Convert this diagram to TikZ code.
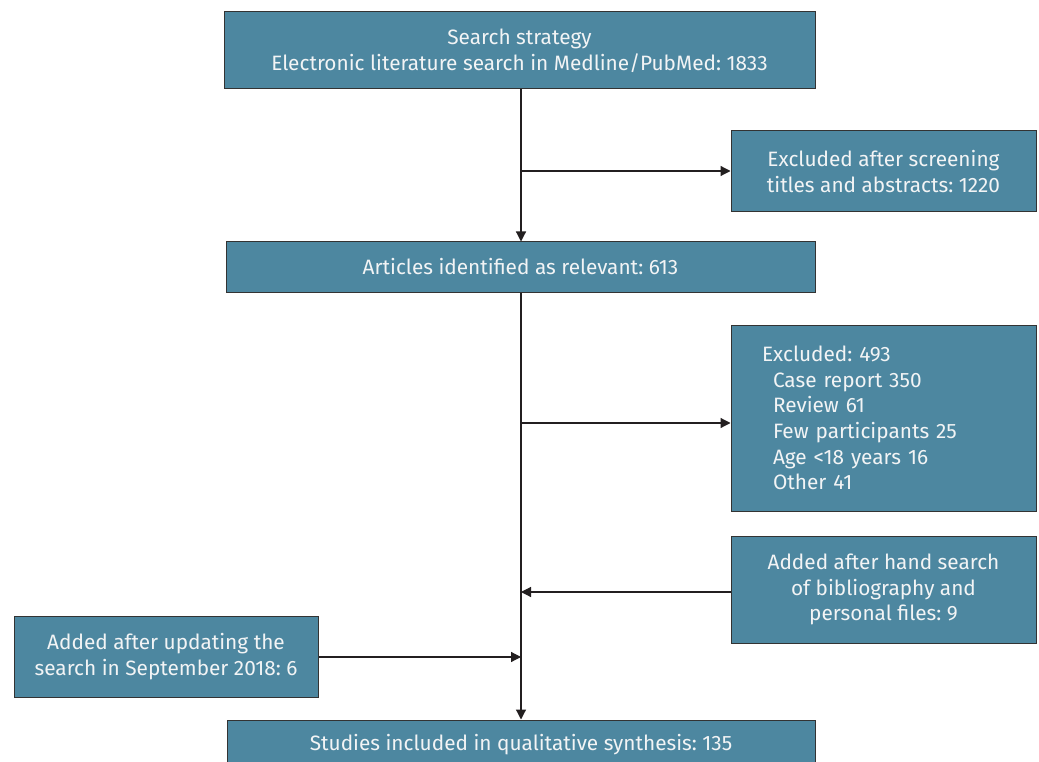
\documentclass[tikz,border=0pt]{standalone}
\usepackage{fontspec}
\setmainfont{Fira Sans}
\usetikzlibrary{arrows.meta}
\definecolor{boxfill}{HTML}{4D87A0}
\definecolor{edgec}{HTML}{333333}
\definecolor{linec}{HTML}{231F20}
\definecolor{txtc}{HTML}{F2F4F5}
\frenchspacing
\begin{document}
\begin{tikzpicture}[x=1pt,y=-1pt,
  box/.style={draw=edgec, line width=1pt, fill=boxfill, text=txtc,
    font=\fontsize{20.8}{25.7}\selectfont, align=center, inner sep=0pt},
  conn/.style={draw=linec, line width=1.2pt},
  arr/.style={conn, -{Triangle[length=10pt,width=10pt]}}]
\useasboundingbox (0,0) rectangle (1039,762);
\clip (0,0) rectangle (1039,762);
\fill[white] (0,0) rectangle (1039,762);

\node[box, minimum width=591pt, minimum height=77pt] (b1) at (519.5,50.5)
  {Search strategy\\Electronic literature search in Medline/PubMed: 1833};
\node[box, minimum width=305pt, minimum height=81pt] (bex1) at (883.5,171.5)
  {Excluded after screening\\titles and abstracts: 1220};
\node[box, minimum width=589pt, minimum height=50pt] (b2) at (520.5,267)
  {Articles identified as relevant: 613};
\node[box, minimum width=305pt, minimum height=186pt, inner xsep=31pt,
  text width=243pt, align=left] (bex2) at (883.5,418)
  {Excluded: 493\\
   \hspace*{11pt}Case report 350\\
   \hspace*{11pt}Review 61\\
   \hspace*{11pt}Few participants 25\\
   \hspace*{11pt}Age <18 years 16\\
   \hspace*{11pt}Other 41};
\node[box, minimum width=305pt, minimum height=107pt] (badd) at (883.5,589.5)
  {Added after hand search\\of bibliography and\\personal files: 9};
\node[box, minimum width=304pt, minimum height=81pt] (bupd) at (166,656.5)
  {Added after updating the\\search in September 2018: 6};
\node[box, minimum width=588pt, minimum height=50pt] (bfin) at (521,745)
  {Studies included in qualitative synthesis: 135};

\coordinate (j1) at (521,171);
\coordinate (j2) at (521,423);
\coordinate (j3) at (521,592);
\coordinate (j4) at (521,657);

\draw[arr] (b1.south -| j1) -- (b2.north -| j1);
\draw[arr] (j1) -- (bex1.west |- j1);
\draw[arr] (b2.south -| j1) -- (bfin.north -| j1);
\draw[arr] (j2) -- (bex2.west |- j2);
\draw[arr] (badd.west |- j3) -- (j3);
\draw[arr] (bupd.east |- j4) -- (j4);
\end{tikzpicture}
\end{document}
